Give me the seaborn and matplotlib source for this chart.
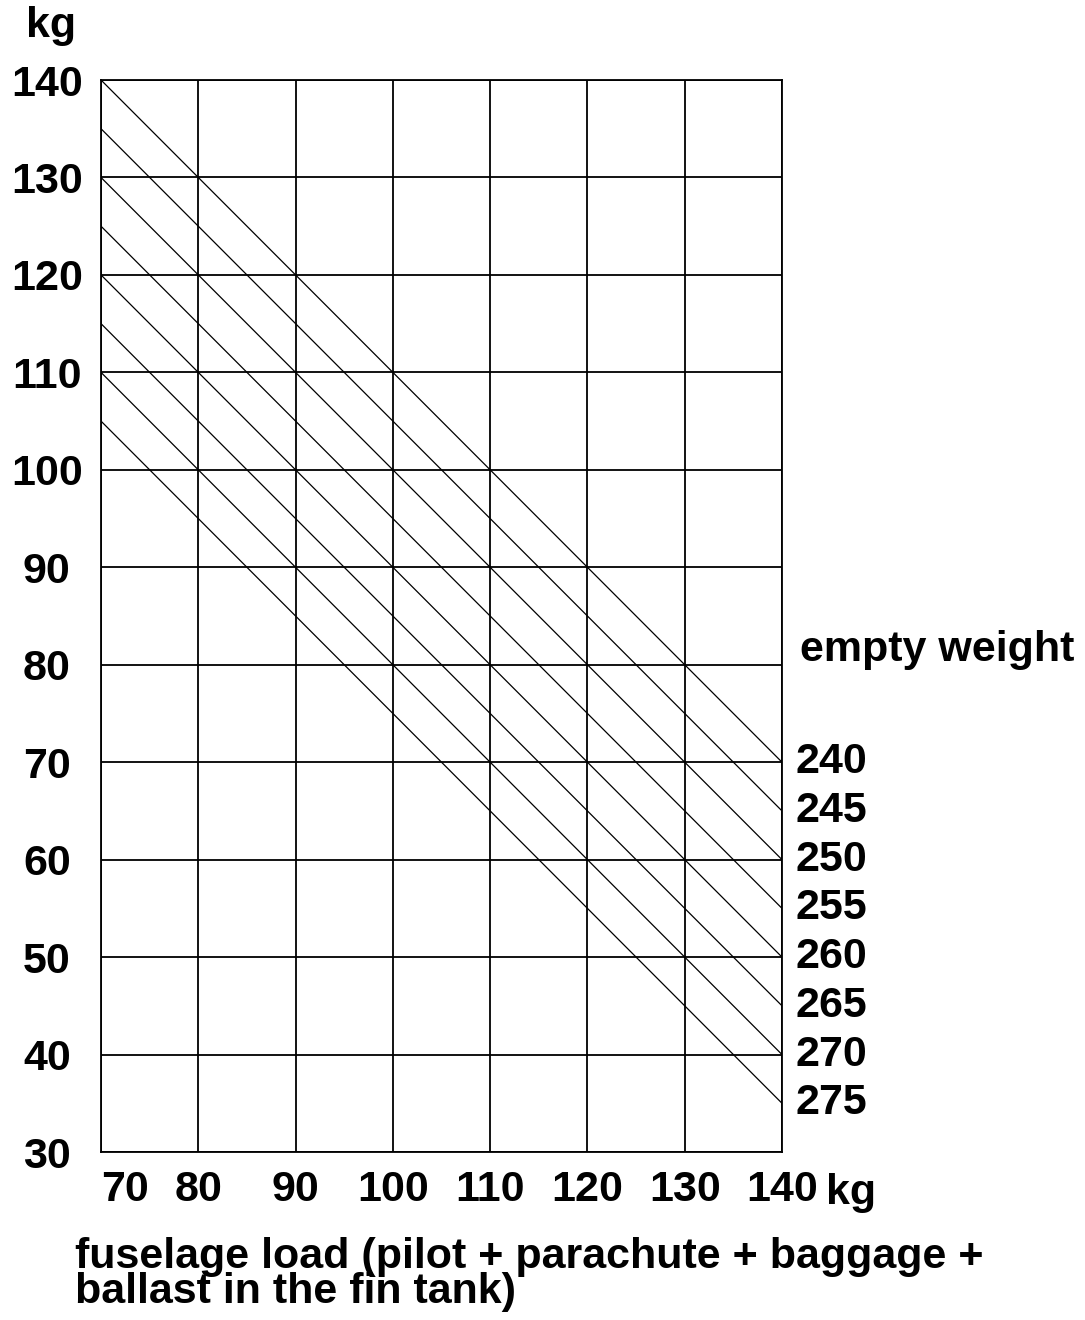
import matplotlib.pyplot as plt
import pandas as pd
import seaborn as sns

# fuselage load grid (x) and wing-load grid (y), kg
x_ticks = [70, 80, 90, 100, 110, 120, 130, 140]
y_ticks = [30, 40, 50, 60, 70, 80, 90, 100, 110, 120, 130, 140]

# empty-weight lines: value at x = 70 kg and at x = 140 kg
empty_weights = [240, 245, 250, 255, 260, 265, 270, 275]
load_at_70 = [140, 135, 130, 125, 120, 115, 110, 105]
load_at_140 = [70, 65, 60, 55, 50, 45, 40, 35]
line_x = [70, 140]

rows = []
for w, y0, y1 in zip(empty_weights, load_at_70, load_at_140):
    rows.append({"weight": w, "x": line_x[0], "y": y0})
    rows.append({"weight": w, "x": line_x[1], "y": y1})
df = pd.DataFrame(rows)

sns.set_theme(style="white")
plt.rcParams["font.family"] = ["Liberation Sans", "DejaVu Sans"]
plt.rcParams["font.weight"] = "bold"
plt.rcParams["text.color"] = "black"
FS = 31

fig = plt.figure(figsize=(10.85, 13.2), dpi=100)
ax = fig.add_axes([101 / 1085, 1 - 1152 / 1320, 681 / 1085, 1072 / 1320])

sns.lineplot(
    data=df,
    x="x",
    y="y",
    units="weight",
    estimator=None,
    color="black",
    linewidth=0.9,
    ax=ax,
)

ax.set_xlim(70, 140)
ax.set_ylim(30, 140)
ax.set_xticks(x_ticks)
ax.set_yticks(y_ticks)
ax.grid(True, color="black", linewidth=1.3)
ax.set_axisbelow(True)
for s in ax.spines.values():
    s.set_color("black")
    s.set_linewidth(1.3)
ax.set_xlabel("")
ax.set_ylabel("")

ax.tick_params(axis="x", length=0, pad=13, labelsize=FS, labelcolor="black")
ax.tick_params(axis="y", length=0, pad=39, labelsize=FS, labelcolor="black")
for lab in ax.get_yticklabels():
    lab.set_ha("center")
ax.get_xticklabels()[0].set_ha("left")

# empty weight labels at the line ends
for w, y1 in zip(empty_weights, load_at_140):
    ax.text(141.4, y1, str(w), fontsize=FS, ha="left", va="center", clip_on=False)
ax.text(141.9, 81.5, "empty weight", fontsize=FS, ha="left", va="center", clip_on=False)

fig.text(51 / 1085, 1 - 37 / 1320, "kg", fontsize=FS, ha="center", va="baseline")
fig.text(826 / 1085, 1 - 1204 / 1320, "kg", fontsize=FS, ha="left", va="baseline")
fig.text(
    75 / 1085,
    1 - 1312 / 1320,
    "fuselage load (pilot + parachute + baggage +\nballast in the fin tank)",
    fontsize=FS,
    ha="left",
    va="bottom",
    linespacing=0.85,
)

fig.savefig("out.png", dpi=100, facecolor="white")
